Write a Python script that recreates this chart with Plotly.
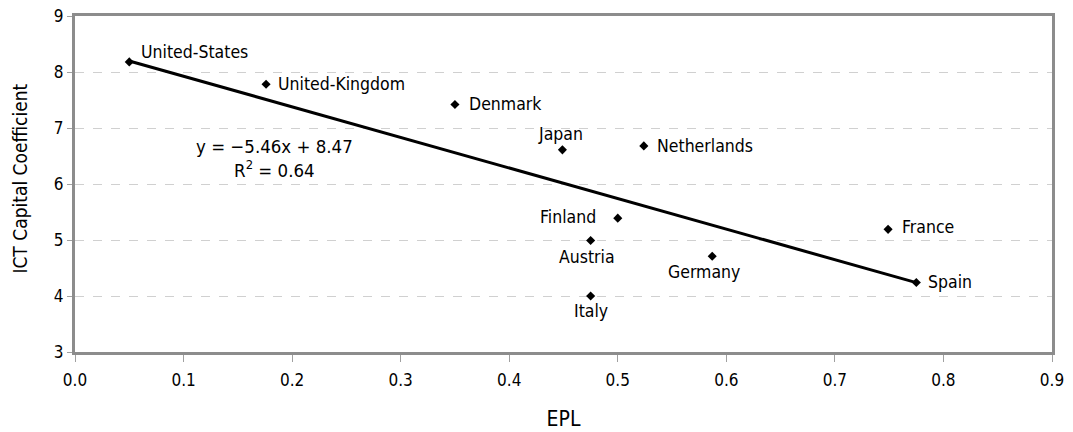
import plotly.graph_objects as go

countries = ["United-States", "United-Kingdom", "Denmark", "Japan", "Netherlands",
             "Finland", "Austria", "Germany", "Italy", "France", "Spain"]
epl = [0.05, 0.176, 0.350, 0.449, 0.524, 0.500, 0.475, 0.587, 0.475, 0.749, 0.775]
ict = [8.18, 7.78, 7.42, 6.61, 6.68, 5.39, 4.99, 4.71, 4.00, 5.19, 4.24]

slope = -5.46
intercept = 8.47
r2 = 0.64

# label placement: (xanchor, xshift, yshift)
label_pos = {
    "United-States": ("left", 10, 10),
    "United-Kingdom": ("left", 10, 0),
    "Denmark": ("left", 12, 0),
    "Japan": ("center", -2, 16),
    "Netherlands": ("left", 11, 0),
    "Finland": ("right", -20, 1),
    "Austria": ("center", -4, -16),
    "Germany": ("center", -8, -16),
    "Italy": ("center", 0, -15),
    "France": ("left", 12, 2),
    "Spain": ("left", 10, 1),
}

FONT = "DejaVu Sans Condensed, Lato, sans-serif"
FS = 17.5

fig = go.Figure()

x_line = [min(epl), max(epl)]
y_line = [slope * v + intercept for v in x_line]
fig.add_trace(go.Scatter(x=x_line, y=y_line, mode="lines",
                         line=dict(color="black", width=3), hoverinfo="skip",
                         showlegend=False))
fig.add_trace(go.Scatter(x=epl, y=ict, mode="markers", text=countries,
                         marker=dict(symbol="diamond", size=7, color="black"),
                         showlegend=False))

for c, xv, yv in zip(countries, epl, ict):
    xa, xs, ys = label_pos[c]
    fig.add_annotation(x=xv, y=yv, text=c, showarrow=False, xanchor=xa,
                       yanchor="middle", xshift=xs, yshift=ys,
                       font=dict(family=FONT, size=FS, color="black"))

fig.add_annotation(x=0.184, y=6.46,
                   text=f"y = \u22125.46x + 8.47<br>R<sup>2</sup> = {r2:.2f}",
                   showarrow=False, align="center", xanchor="center", yanchor="middle",
                   font=dict(family=FONT, size=18.5, color="black"))

# y axis title as rotated annotation
fig.add_annotation(x=0, xref="paper", y=0.516, yref="paper",
                   text="ICT Capital Coefficient", textangle=-90, showarrow=False,
                   xanchor="center", yanchor="middle", xshift=-55,
                   font=dict(family=FONT, size=19, color="black"))

fig.update_layout(
    width=1073, height=432,
    margin=dict(l=75, r=21, t=16, b=80),
    paper_bgcolor="white", plot_bgcolor="white",
    font=dict(family=FONT, size=17, color="black"),
    xaxis=dict(range=[0, 0.9], dtick=0.1, tickformat=".1f", showgrid=False,
               zeroline=False, showline=True, linecolor="#8c8c8c", linewidth=3,
               mirror=True, ticks="outside", ticklen=7, tickcolor="#a0a0a0",
               tickwidth=1, automargin=False, ticklabeloverflow="allow",
               ticklabelstandoff=4,
               title=dict(text="EPL", font=dict(family=FONT, size=21), standoff=22)),
    yaxis=dict(range=[3, 9], dtick=1, showgrid=True, gridcolor="#d0d0d0",
               griddash="dash", gridwidth=1, zeroline=False, showline=True,
               linecolor="#8c8c8c", linewidth=3, mirror=True, ticks="outside",
               ticklen=5, tickcolor="#a0a0a0", automargin=False,
               ticklabeloverflow="allow"),
)

fig.write_html("out.html", config={"displayModeBar": False},
               post_script="document.body.style.margin='0';"
                           "document.documentElement.style.overflow='hidden';")
